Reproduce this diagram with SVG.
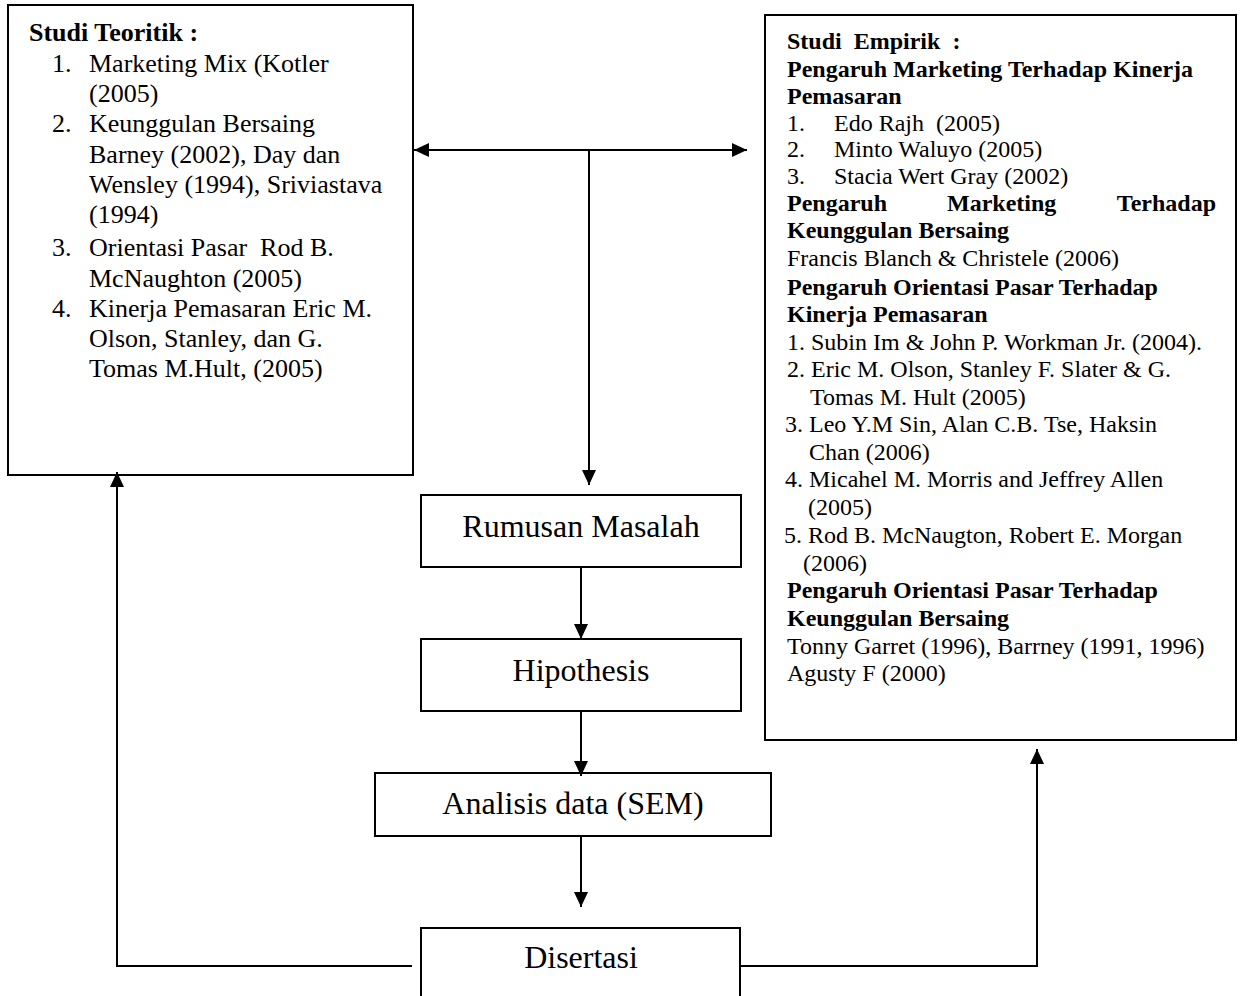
<svg xmlns="http://www.w3.org/2000/svg" width="1244" height="996" viewBox="0 0 1244 996">
  <style>
    .box { fill: #fff; stroke: #000; stroke-width: 2; }
    .t { font-family: "Liberation Serif", "Times New Roman", serif; fill: #000; white-space: pre; }
    .l { font-size: 26px; }
    .r { font-size: 24px; }
    .b { font-weight: bold; }
    .c { font-size: 32px; text-anchor: middle; }
    .wire { fill: none; stroke: #000; stroke-width: 2; }
  </style>
  <defs>
    <marker id="head" viewBox="0 0 15 14" refX="15" refY="7" markerWidth="15" markerHeight="14" markerUnits="userSpaceOnUse" orient="auto-start-reverse">
      <path d="M0,0 L15,7 L0,14 Z" fill="#000"/>
    </marker>
  </defs>

  <rect width="1244" height="996" fill="#fff"/>

  <!-- Theoretical studies -->
  <g id="studi-teoritik">
    <rect class="box" x="8" y="5" width="405" height="470"/>
    <text class="t l b" x="29" y="41">Studi Teoritik :</text>
    <text class="t l" x="52" y="72">1.</text>
    <text class="t l" x="89" y="72">Marketing Mix (Kotler</text>
    <text class="t l" x="89" y="102">(2005)</text>
    <text class="t l" x="52" y="132">2.</text>
    <text class="t l" x="89" y="132">Keunggulan Bersaing</text>
    <text class="t l" x="89" y="163">Barney (2002), Day dan</text>
    <text class="t l" x="89" y="193">Wensley (1994), Sriviastava</text>
    <text class="t l" x="89" y="223">(1994)</text>
    <text class="t l" x="52" y="256">3.</text>
    <text class="t l" x="89" y="256">Orientasi Pasar  Rod B.</text>
    <text class="t l" x="89" y="287">McNaughton (2005)</text>
    <text class="t l" x="52" y="317">4.</text>
    <text class="t l" x="89" y="317">Kinerja Pemasaran Eric M.</text>
    <text class="t l" x="89" y="347">Olson, Stanley, dan G.</text>
    <text class="t l" x="89" y="377">Tomas M.Hult, (2005)</text>
  </g>

  <!-- Empirical studies -->
  <g id="studi-empirik">
    <rect class="box" x="765" y="15" width="471" height="725"/>
    <text class="t r b" x="787" y="49">Studi  Empirik  :</text>
    <text class="t r b" x="787" y="77">Pengaruh Marketing Terhadap Kinerja</text>
    <text class="t r b" x="787" y="104">Pemasaran</text>
    <text class="t r" x="787" y="131">1.</text>
    <text class="t r" x="834" y="131">Edo Rajh  (2005)</text>
    <text class="t r" x="787" y="157">2.</text>
    <text class="t r" x="834" y="157">Minto Waluyo (2005)</text>
    <text class="t r" x="787" y="184">3.</text>
    <text class="t r" x="834" y="184">Stacia Wert Gray (2002)</text>
    <text class="t r b" x="787" y="211">Pengaruh</text>
    <text class="t r b" x="947" y="211">Marketing</text>
    <text class="t r b" x="1216" y="211" text-anchor="end">Terhadap</text>
    <text class="t r b" x="787" y="238">Keunggulan Bersaing</text>
    <text class="t r" x="787" y="266">Francis Blanch &amp; Christele (2006)</text>
    <text class="t r b" x="787" y="295">Pengaruh Orientasi Pasar Terhadap</text>
    <text class="t r b" x="787" y="322">Kinerja Pemasaran</text>
    <text class="t r" x="787" y="350">1. Subin Im &amp; John P. Workman Jr. (2004).</text>
    <text class="t r" x="787" y="377">2. Eric M. Olson, Stanley F. Slater &amp; G.</text>
    <text class="t r" x="810" y="405">Tomas M. Hult (2005)</text>
    <text class="t r" x="785" y="432">3. Leo Y.M Sin, Alan C.B. Tse, Haksin</text>
    <text class="t r" x="809" y="460">Chan (2006)</text>
    <text class="t r" x="785" y="487">4. Micahel M. Morris and Jeffrey Allen</text>
    <text class="t r" x="808" y="515">(2005)</text>
    <text class="t r" x="784" y="543">5. Rod B. McNaugton, Robert E. Morgan</text>
    <text class="t r" x="803" y="571">(2006)</text>
    <text class="t r b" x="787" y="598">Pengaruh Orientasi Pasar Terhadap</text>
    <text class="t r b" x="787" y="626">Keunggulan Bersaing</text>
    <text class="t r" x="787" y="654">Tonny Garret (1996), Barrney (1991, 1996)</text>
    <text class="t r" x="787" y="681">Agusty F (2000)</text>
  </g>

  <!-- Research flow -->
  <g id="rumusan-masalah">
    <rect class="box" x="421" y="495" width="320" height="72"/>
    <text class="t c" x="581" y="537">Rumusan Masalah</text>
  </g>
  <g id="hipothesis">
    <rect class="box" x="421" y="639" width="320" height="72"/>
    <text class="t c" x="581" y="681">Hipothesis</text>
  </g>
  <g id="analisis-data">
    <rect class="box" x="375" y="773" width="396" height="63"/>
    <text class="t c" x="573" y="814">Analisis data (SEM)</text>
  </g>
  <g id="disertasi">
    <rect class="box" x="421" y="928" width="319" height="80"/>
    <text class="t c" x="581" y="968">Disertasi</text>
  </g>

  <!-- Connectors -->
  <g id="connectors">
    <line class="wire" x1="414" y1="150" x2="747" y2="150" marker-start="url(#head)" marker-end="url(#head)"/>
    <line class="wire" x1="589" y1="150" x2="589" y2="485" marker-end="url(#head)"/>
    <line class="wire" x1="581" y1="567" x2="581" y2="639" marker-end="url(#head)"/>
    <line class="wire" x1="581" y1="711" x2="581" y2="776" marker-end="url(#head)"/>
    <line class="wire" x1="581" y1="836" x2="581" y2="907" marker-end="url(#head)"/>
    <polyline class="wire" points="412,966 117,966 117,472" marker-end="url(#head)"/>
    <polyline class="wire" points="740,966 1037,966 1037,749" marker-end="url(#head)"/>
  </g>
</svg>
